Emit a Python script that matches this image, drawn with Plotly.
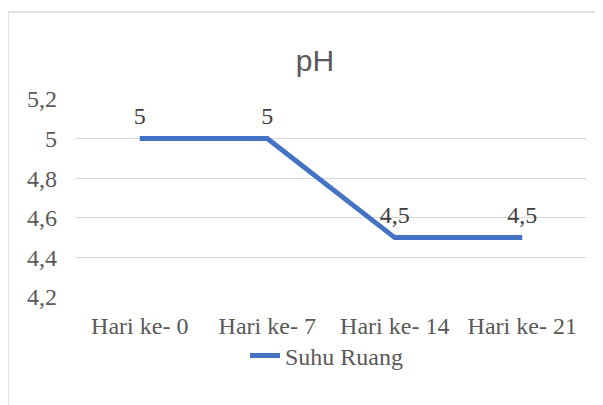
import plotly.graph_objects as go

categories = ["Hari ke- 0", "Hari ke- 7", "Hari ke- 14", "Hari ke- 21"]
values = [5.0, 5.0, 4.5, 4.5]
series_name = "Suhu Ruang"
title_text = "pH"
y_ticks = [4.2, 4.4, 4.6, 4.8, 5.0, 5.2]

labels = [f"{v:g}".replace(".", ",") for v in values]

OFF = 8  # page body margin
W, H = 603 - OFF, 405 - OFF
L, R, T, B = 76 - OFF, 586 - OFF, 99 - OFF, 297 - OFF
pw, ph = R - L, B - T

def px(x):
    return (x - OFF - L) / pw

def py(y):
    return (B - (y - OFF)) / ph

def cx(x):
    return (x - OFF) / W

def cy(y):
    return 1 - (y - OFF) / H

serif = "Liberation Serif, Times New Roman, serif"
grey = "#595959"

fig = go.Figure()
fig.add_trace(go.Scatter(
    x=categories, y=values, mode="lines+markers+text", name=series_name,
    text=labels, textposition="top center",
    textfont=dict(family=serif, size=24, color="#404040"),
    line=dict(color="#4472C4", width=5),
    marker=dict(size=12, color="rgba(0,0,0,0)", line=dict(width=0)),
))

fig.update_layout(
    width=W, height=H,
    margin=dict(l=L, r=W - R, t=T, b=H - B, pad=0, autoexpand=False),
    paper_bgcolor="white", plot_bgcolor="white",
    separators=", ",
    title=dict(text=title_text, xref="container", x=cx(315), xanchor="center",
               yref="container", y=cy(60), yanchor="middle",
               font=dict(family="Liberation Sans, Arial, sans-serif", size=30, color=grey)),
    showlegend=True,
    legend=dict(orientation="h", xref="container", x=cx(245), xanchor="left",
                yref="container", y=cy(356), yanchor="middle",
                font=dict(family=serif, size=24, color=grey), bgcolor="rgba(0,0,0,0)"),
    xaxis=dict(type="category", range=[-0.5, len(categories) - 0.5], showgrid=False,
               automargin=False, zeroline=False, showline=False, ticks="", ticklabelstandoff=12,
               tickfont=dict(family=serif, size=24, color=grey)),
    yaxis=dict(range=[4.2, 5.2], tickvals=y_ticks, showgrid=True, gridcolor="#d9d9d9",
               automargin=False, gridwidth=1, zeroline=False, showline=False, ticks="",
               ticklabelstandoff=18, tickfont=dict(family=serif, size=24, color=grey)),
    shapes=[dict(type="rect", xref="paper", yref="paper",
                 x0=px(8), x1=px(620), y0=py(420), y1=py(12),
                 line=dict(color="#d9d9d9", width=1.5), fillcolor="rgba(0,0,0,0)", layer="below")],
)

fig.write_html("out.html")
